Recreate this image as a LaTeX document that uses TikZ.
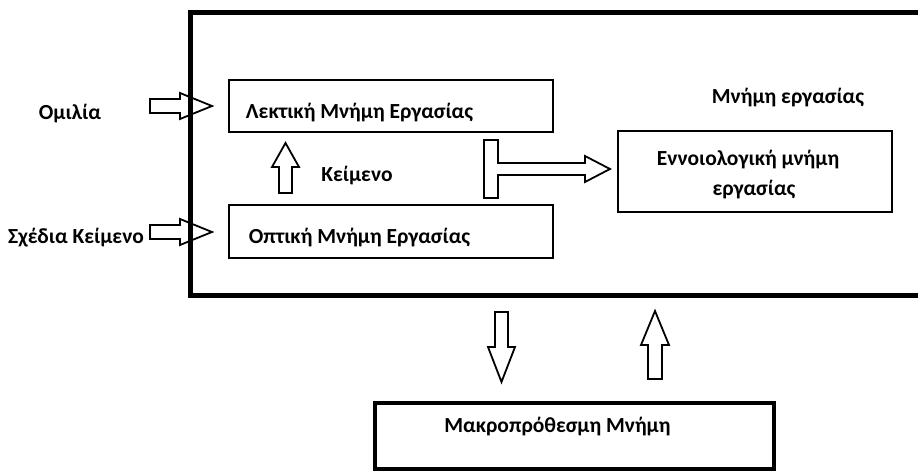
\documentclass[tikz,border=0pt]{standalone}
\usepackage{fontspec}
\setmainfont{Carlito}
\begin{document}
\begin{tikzpicture}[x=1pt,y=-1pt,
  lbl/.style={font=\bfseries\fontsize{21.5}{27}\selectfont, inner sep=0pt},
  membox/.style={draw, line width=2.6pt, inner sep=0pt},
  blockarrow/.style={draw, line width=1.8pt, line join=miter, fill=white}]
\useasboundingbox (0,0) rectangle (918,473);

% input arrows entering the working-memory frame
\draw[blockarrow, fill=none] (150,99) -- (180,99) -- (180,93) -- (212,106) -- (180,119) -- (180,113) -- (150,113) -- cycle;
\draw[blockarrow, fill=none] (150,225) -- (180,225) -- (180,219) -- (212,232) -- (180,245) -- (180,239) -- (150,239) -- cycle;

% outer working-memory frame (runs past the right edge)
\draw[line width=5pt] (940,12.5) -- (190,12.5) -- (190,295) -- (940,295);

% component boxes
\node[membox, minimum width=324, minimum height=52] (lek) at (391,106) {};
\node[membox, minimum width=324, minimum height=53] (opt) at (391,231.5) {};
\node[membox, minimum width=274, minimum height=81] (enn) at (755,171.5) {};
\node[draw, line width=4pt, minimum width=399, minimum height=66] (mak) at (574.5,435.5) {};

% texts
\node[lbl, anchor=west] at ([xshift=18,yshift=-7]lek.west) {Λεκτική Μνήμη Εργασίας};
\node[lbl, anchor=west] at ([xshift=21,yshift=-6.5]opt.west) {Οπτική Μνήμη Εργασίας};
\node[lbl, align=center] at ([xshift=-7,yshift=-3.5]enn.center) {Εννοιολογική μνήμη\\[3pt]\hspace*{12pt}εργασίας};
\node[lbl] (omi) at (70,114) {Ομιλία};
\node[lbl, anchor=west] (sxe) at (8,238) {Σχέδια Κείμενο};
\node[lbl] (kei) at (357,176) {Κείμενο};
\node[lbl] (mne) at (788,98) {Μνήμη εργασίας};
\node[lbl] at ([xshift=-17,yshift=8.5]mak.center) {Μακροπρόθεσμη Μνήμη};

% visual to verbal
\draw[blockarrow] (279,193) -- (279,167) -- (272,167) -- (285.5,143) -- (299,167) -- (292,167) -- (292,193) -- cycle;

% T-shaped transfer towards the conceptual store
\draw[blockarrow] (484,140) -- (498,140) -- (498,163) -- (585,163) -- (585,156) -- (610,169) -- (585,182) -- (585,175) -- (498,175) -- (498,198) -- (484,198) -- cycle;

% exchange with long-term memory
\draw[blockarrow] (495,312) -- (508,312) -- (508,347) -- (515,347) -- (501.5,382) -- (488,347) -- (495,347) -- cycle;
\draw[blockarrow] (648,379) -- (648,345) -- (641,345) -- (655,311) -- (669,345) -- (662,345) -- (662,379) -- cycle;
\end{tikzpicture}
\end{document}
